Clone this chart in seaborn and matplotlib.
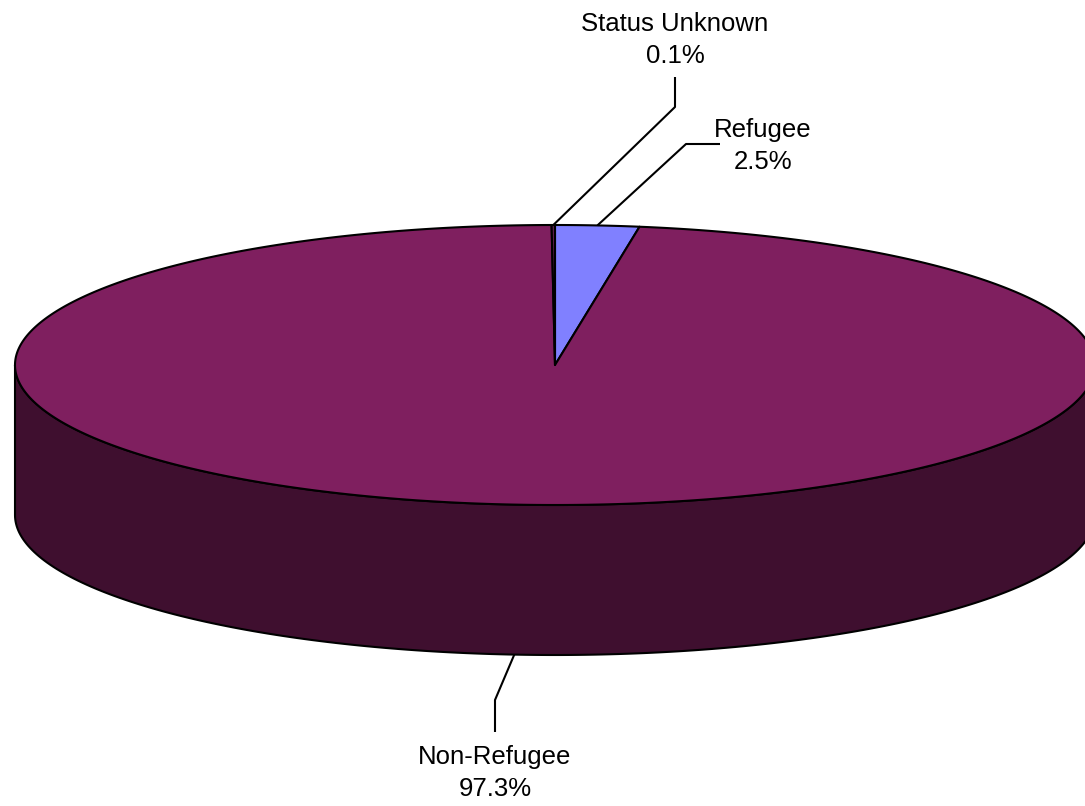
import matplotlib
matplotlib.use('agg')
import matplotlib.pyplot as plt
import seaborn as sns
import numpy as np

# slice order as drawn clockwise from 12 o'clock
LABELS = ['Refugee', 'Non-Refugee', 'Status Unknown']
SHARES = [2.5, 97.3, 0.1]
PCT_TEXT = ['2.5%', '97.3%', '0.1%']

TOP_COLORS = ['#8080FF', '#7F1F5F', '#5F1F4F']
SIDE_COLORS = ['#40407F', '#3F0F2F', '#2F0F2F']

# pie geometry in pixels
CX, CY = 555, 365
RX, RY = 540, 140
DEPTH = 150

# label layout: text centre, leader elbow, leader end
LABEL_POS = {
    'Refugee': ((763, 146), (686, 144), (720, 144)),
    'Non-Refugee': ((495, 773), (495, 700), (495, 732)),
    'Status Unknown': ((675, 40), (675, 107), (675, 77)),
}

EDGE = 1.5


def setup():
    sns.set_style("white")
    plt.rcParams['font.family'] = ['Liberation Sans', 'DejaVu Sans']
    plt.rcParams['font.size'] = 18.5


def ell(t, dy=0):
    t = np.radians(t)
    return CX + RX * np.sin(t), CY - RY * np.cos(t) + dy


def draw_side(ax, t0, t1, color):
    # only the front half (90..270 deg) is visible
    a, b = max(t0, 90), min(t1, 270)
    if a >= b:
        return
    ts = np.linspace(a, b, 200)
    xs, ys = ell(ts)
    xb, yb = ell(ts[::-1], DEPTH)
    ax.fill(np.r_[xs, xb], np.r_[ys, yb], facecolor=color, edgecolor='black',
            lw=EDGE, joinstyle='round', zorder=1)


def draw_top(ax, t0, t1, color):
    ts = np.linspace(t0, t1, max(int((t1 - t0) * 3), 2))
    xs, ys = ell(ts)
    ax.fill(np.r_[CX, xs], np.r_[CY, ys], facecolor=color, edgecolor='black',
            lw=EDGE, joinstyle='round', zorder=2)


setup()
fig = plt.figure(figsize=(10.85, 8.06), dpi=100)
ax = fig.add_axes([0, 0, 1, 1])
ax.set_xlim(0, 1085)
ax.set_ylim(806, 0)
ax.axis('off')

total = sum(SHARES)
angles = np.r_[0, np.cumsum(SHARES)] / total * 360

for i in range(len(LABELS)):
    draw_side(ax, angles[i], angles[i + 1], SIDE_COLORS[i])
for i in range(len(LABELS)):
    draw_top(ax, angles[i], angles[i + 1], TOP_COLORS[i])

for i, lab in enumerate(LABELS):
    mid = (angles[i] + angles[i + 1]) / 2
    if 90 < mid < 270:
        anchor = ell(mid, DEPTH)
    else:
        anchor = ell(mid)
    (tx, ty), elbow, end = LABEL_POS[lab]
    ax.plot([anchor[0], elbow[0], end[0]], [anchor[1], elbow[1], end[1]],
            color='black', lw=1.5, zorder=3, solid_capstyle='butt')
    ax.text(tx, ty, lab + '\n' + PCT_TEXT[i], ha='center', va='center',
            linespacing=1.42, color='black', zorder=4)

fig.savefig('out.png', dpi=100)
